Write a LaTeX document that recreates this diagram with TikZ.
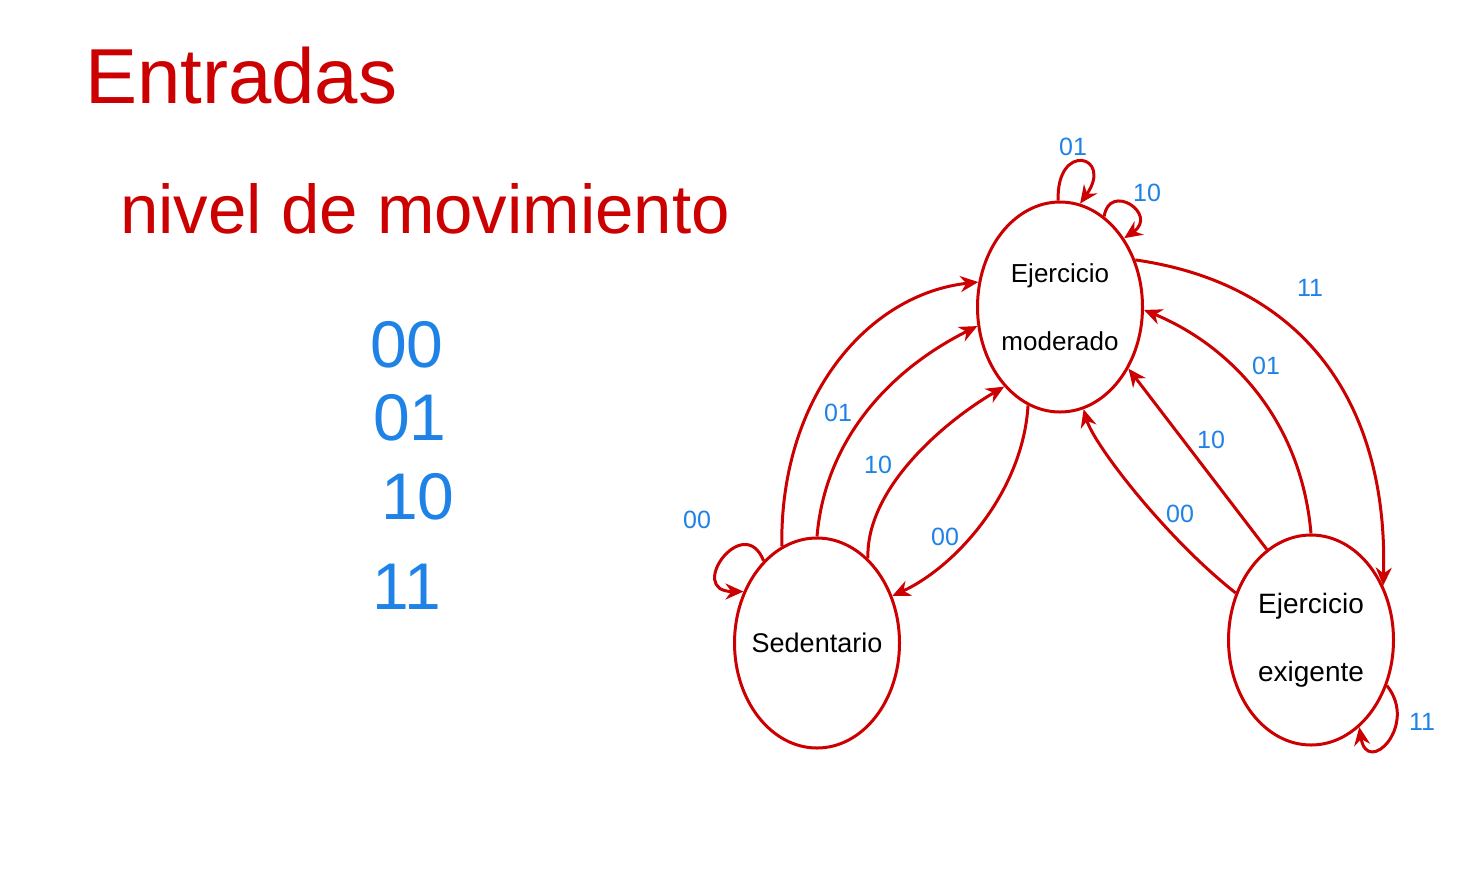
\documentclass[tikz,border=0pt]{standalone}
\usepackage{fontspec}
\setmainfont{Liberation Sans}
\usetikzlibrary{shapes.geometric,arrows.meta}
\definecolor{hred}{RGB}{204,0,0}
\definecolor{hblue}{RGB}{30,130,230}
\tikzset{
  state/.style={ellipse, draw=hred, line width=3pt, minimum width=165pt, minimum height=210pt, inner sep=0pt, align=center, text=black},
  edge/.style={draw=hred, line width=3pt, -{Stealth[length=18pt,width=16pt]}},
  lbl/.style={text=hblue, font=\fontsize{25}{27}\selectfont, inner sep=1pt},
  big/.style={text=hred, inner sep=0pt, anchor=base west},
  code/.style={text=hblue, font=\fontsize{66}{68}\selectfont, inner sep=0pt}
}
\begin{document}
\begin{tikzpicture}[x=1pt,y=-1pt]
\useasboundingbox (0,0) rectangle (1479,871);
\fill[white] (0,0) rectangle (1479,871);

% legend
\node[big, font=\fontsize{78}{80}\selectfont] (title) at (85,103) {Entradas};
\node[big, font=\fontsize{69}{72}\selectfont] (sub) at (120,233) {nivel de movimiento};
\node[code] (c00) at (407,345) {00};
\node[code] (c01) at (410,418) {01};
\node[code] (c10) at (418,497) {10};
\node[code] (c11) at (407,587) {11};

% states
\node[state, font=\fontsize{26}{68}\selectfont] (mod) at (1060,307) {\makebox[90pt][c]{Ejercicio}\\\makebox[90pt][c]{moderado}};
\node[state, font=\fontsize{27}{30}\selectfont] (sed) at (817,643) {\makebox[90pt][c]{Sedentario}};
\node[state, font=\fontsize{28}{68}\selectfont] (exi) at (1311,640) {\makebox[90pt][c]{Ejercicio}\\\makebox[90pt][c]{exigente}};

% Sedentario -> moderado
\draw[edge] (sed.110) .. controls +(-2,-150) and +(-110,12) .. (mod.163);
\draw[edge] (sed.90) .. controls +(8,-95) and +(-90,45) .. (mod.193);
\draw[edge] (sed.59) .. controls +(-2,-70) and +(-60,35) .. (mod.235);
% moderado -> Sedentario
\draw[edge] (mod.252) .. controls +(-5,85) and +(65,-30) .. (sed.32);
% moderado -> exigente
\draw[edge] (mod.32) .. controls +(175,25) and +(5,-175) .. (exi.37);
% exigente -> moderado
\draw[edge] (exi.90) .. controls +(-10,-115) and +(85,35) .. (mod.-2);
\draw[edge] (exi.116) -- (mod.-42);
\draw[edge] (exi.148) .. controls +(-70,-55) and +(10,35) .. (mod.-77);

% self loops
\draw[edge] (mod.91) .. controls +(-2,-60) and +(34,-48) .. (mod.79);
\draw[edge] (mod.64) .. controls +(5,-35) and +(35,-24) .. (mod.47);
\draw[edge] (sed.123) .. controls +(-20,-50) and +(-58,0) .. (sed.145);
\draw[edge] (exi.-31) .. controls +(32,40) and +(8,50) .. (exi.-61);

% edge labels
\node[lbl] (l1) at (1073,147) {01};
\node[lbl] (l2) at (1147,193) {10};
\node[lbl] (l3) at (1310,288) {11};
\node[lbl] (l4) at (1266,366) {01};
\node[lbl] (l5) at (1211,440) {10};
\node[lbl] (l6) at (1180,514) {00};
\node[lbl] (l7) at (697,520) {00};
\node[lbl] (l8) at (838,413) {01};
\node[lbl] (l9) at (878,465) {10};
\node[lbl] (l10) at (945,537) {00};
\node[lbl] (l11) at (1422,722) {11};
\end{tikzpicture}
\end{document}
